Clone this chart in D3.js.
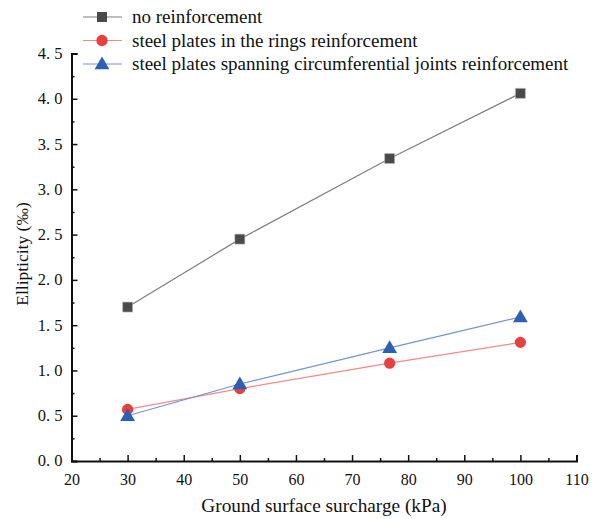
<!DOCTYPE html>
<html><head><meta charset="utf-8">
<script src="https://cdn.jsdelivr.net/npm/d3@7"></script>
<style>body{margin:0;background:#fff}svg{display:block}text{font-family:"Liberation Serif","Times New Roman",serif;fill:#111}</style>
</head><body>
<script>
const surcharge = [30, 50, 76.7, 100];
const noReinf = [1.70, 2.45, 3.34, 4.06];
const ringPlates = [0.57, 0.80, 1.08, 1.31];
const spanPlates = [0.50, 0.85, 1.25, 1.59];
const seriesNames = ["no reinforcement", "steel plates in the rings reinforcement", "steel plates spanning circumferential joints reinforcement"];
const xTicks = [20, 30, 40, 50, 60, 70, 80, 90, 100, 110];
const yTicks = [0, 0.5, 1.0, 1.5, 2.0, 2.5, 3.0, 3.5, 4.0, 4.5];

const W = 592, H = 519;
const svg = d3.select("body").append("svg").attr("width", W).attr("height", H);
const x = d3.scaleLinear().domain([20, 110]).range([71.5, 576.5]);
const y = d3.scaleLinear().domain([0, 4.5]).range([461, 53.5]);

const series = [
  {name: seriesNames[0], vals: noReinf, line: "#7f7f7f", fill: "#4a4a4a", shape: d3.symbolSquare, size: 100},
  {name: seriesNames[1], vals: ringPlates, line: "#f28a8a", fill: "#e8403f", shape: d3.symbolCircle, size: 100},
  {name: seriesNames[2], vals: spanPlates, line: "#7393d3", fill: "#2d5fb3", shape: d3.symbolTriangle, size: 95}
];

// axes
const gx = svg.append("g").attr("transform", `translate(0,${y(0)})`);
gx.call(d3.axisBottom(x).tickValues(d3.range(25, 110, 10)).tickSize(-3).tickFormat(""));
gx.selectAll(".tick line").attr("stroke", "#111").attr("stroke-width", 1.5);
const gx2 = svg.append("g").attr("transform", `translate(0,${y(0)})`);
gx2.call(d3.axisBottom(x).tickValues(xTicks).tickSize(-6).tickPadding(13).tickFormat(d3.format("d")));
gx2.select(".domain").attr("stroke", "#111").attr("stroke-width", 2);
gx2.selectAll(".tick line").attr("stroke", "#111").attr("stroke-width", 1.5);
gx2.selectAll(".tick text").attr("font-size", 16).attr("fill", "#111").attr("font-family", "Liberation Serif");

const gy = svg.append("g").attr("transform", `translate(${x(20)},0)`);
gy.call(d3.axisLeft(y).tickValues(d3.range(0.25, 4.5, 0.5)).tickSize(-3).tickFormat(""));
gy.selectAll(".tick line").attr("stroke", "#111").attr("stroke-width", 1.5);
gy.select(".domain").remove();
const gy2 = svg.append("g").attr("transform", `translate(${x(20)},0)`);
gy2.call(d3.axisLeft(y).tickValues(yTicks).tickSize(-6).tickPadding(9).tickFormat(d => d3.format(".1f")(d).replace(".", ". ")));
gy2.select(".domain").attr("stroke", "#111").attr("stroke-width", 2);
gy2.selectAll(".tick line").attr("stroke", "#111").attr("stroke-width", 1.5);
gy2.selectAll(".tick text").attr("font-size", 16.5).attr("fill", "#111").attr("font-family", "Liberation Serif").attr("dy", "0.3em");

// axis titles
svg.append("text").attr("x", x(65)).attr("y", 512).attr("text-anchor", "middle").attr("font-size", 19.3).text("Ground surface surcharge (kPa)");
svg.append("text").attr("transform", `translate(28,254) rotate(-90)`).attr("text-anchor", "middle").attr("font-size", 17.5).text("Ellipticity (‰)");

// lines and markers
const line = d3.line().x((d, i) => x(surcharge[i])).y(d => y(d));
series.forEach(s => {
  svg.append("path").datum(s.vals).attr("d", line).attr("fill", "none").attr("stroke", s.line).attr("stroke-width", 1.2);
  svg.selectAll(null).data(s.vals).enter().append("path")
    .attr("transform", (d, i) => `translate(${x(surcharge[i])},${y(d) + (s.shape === d3.symbolTriangle ? 1 : 0)})`)
    .attr("d", d3.symbol().type(s.shape).size(s.size))
    .attr("fill", s.fill).attr("stroke", s.shape === d3.symbolSquare ? "#bbb" : "none").attr("stroke-width", 0.6);
});

// legend
const legY = [17, 40.5, 64];
series.forEach((s, i) => {
  const g = svg.append("g").attr("transform", `translate(0,${legY[i]})`);
  g.append("line").attr("x1", 83).attr("x2", 122).attr("y1", 0).attr("y2", 0).attr("stroke", s.line).attr("stroke-width", 1.2);
  g.append("path").attr("transform", `translate(102,${s.shape === d3.symbolTriangle ? 1 : 0})`).attr("d", d3.symbol().type(s.shape).size(s.size)).attr("fill", s.fill);
  g.append("text").attr("x", 132).attr("y", 0).attr("dy", "0.33em").attr("font-size", 19).text(s.name);
});
</script>
</body></html>
